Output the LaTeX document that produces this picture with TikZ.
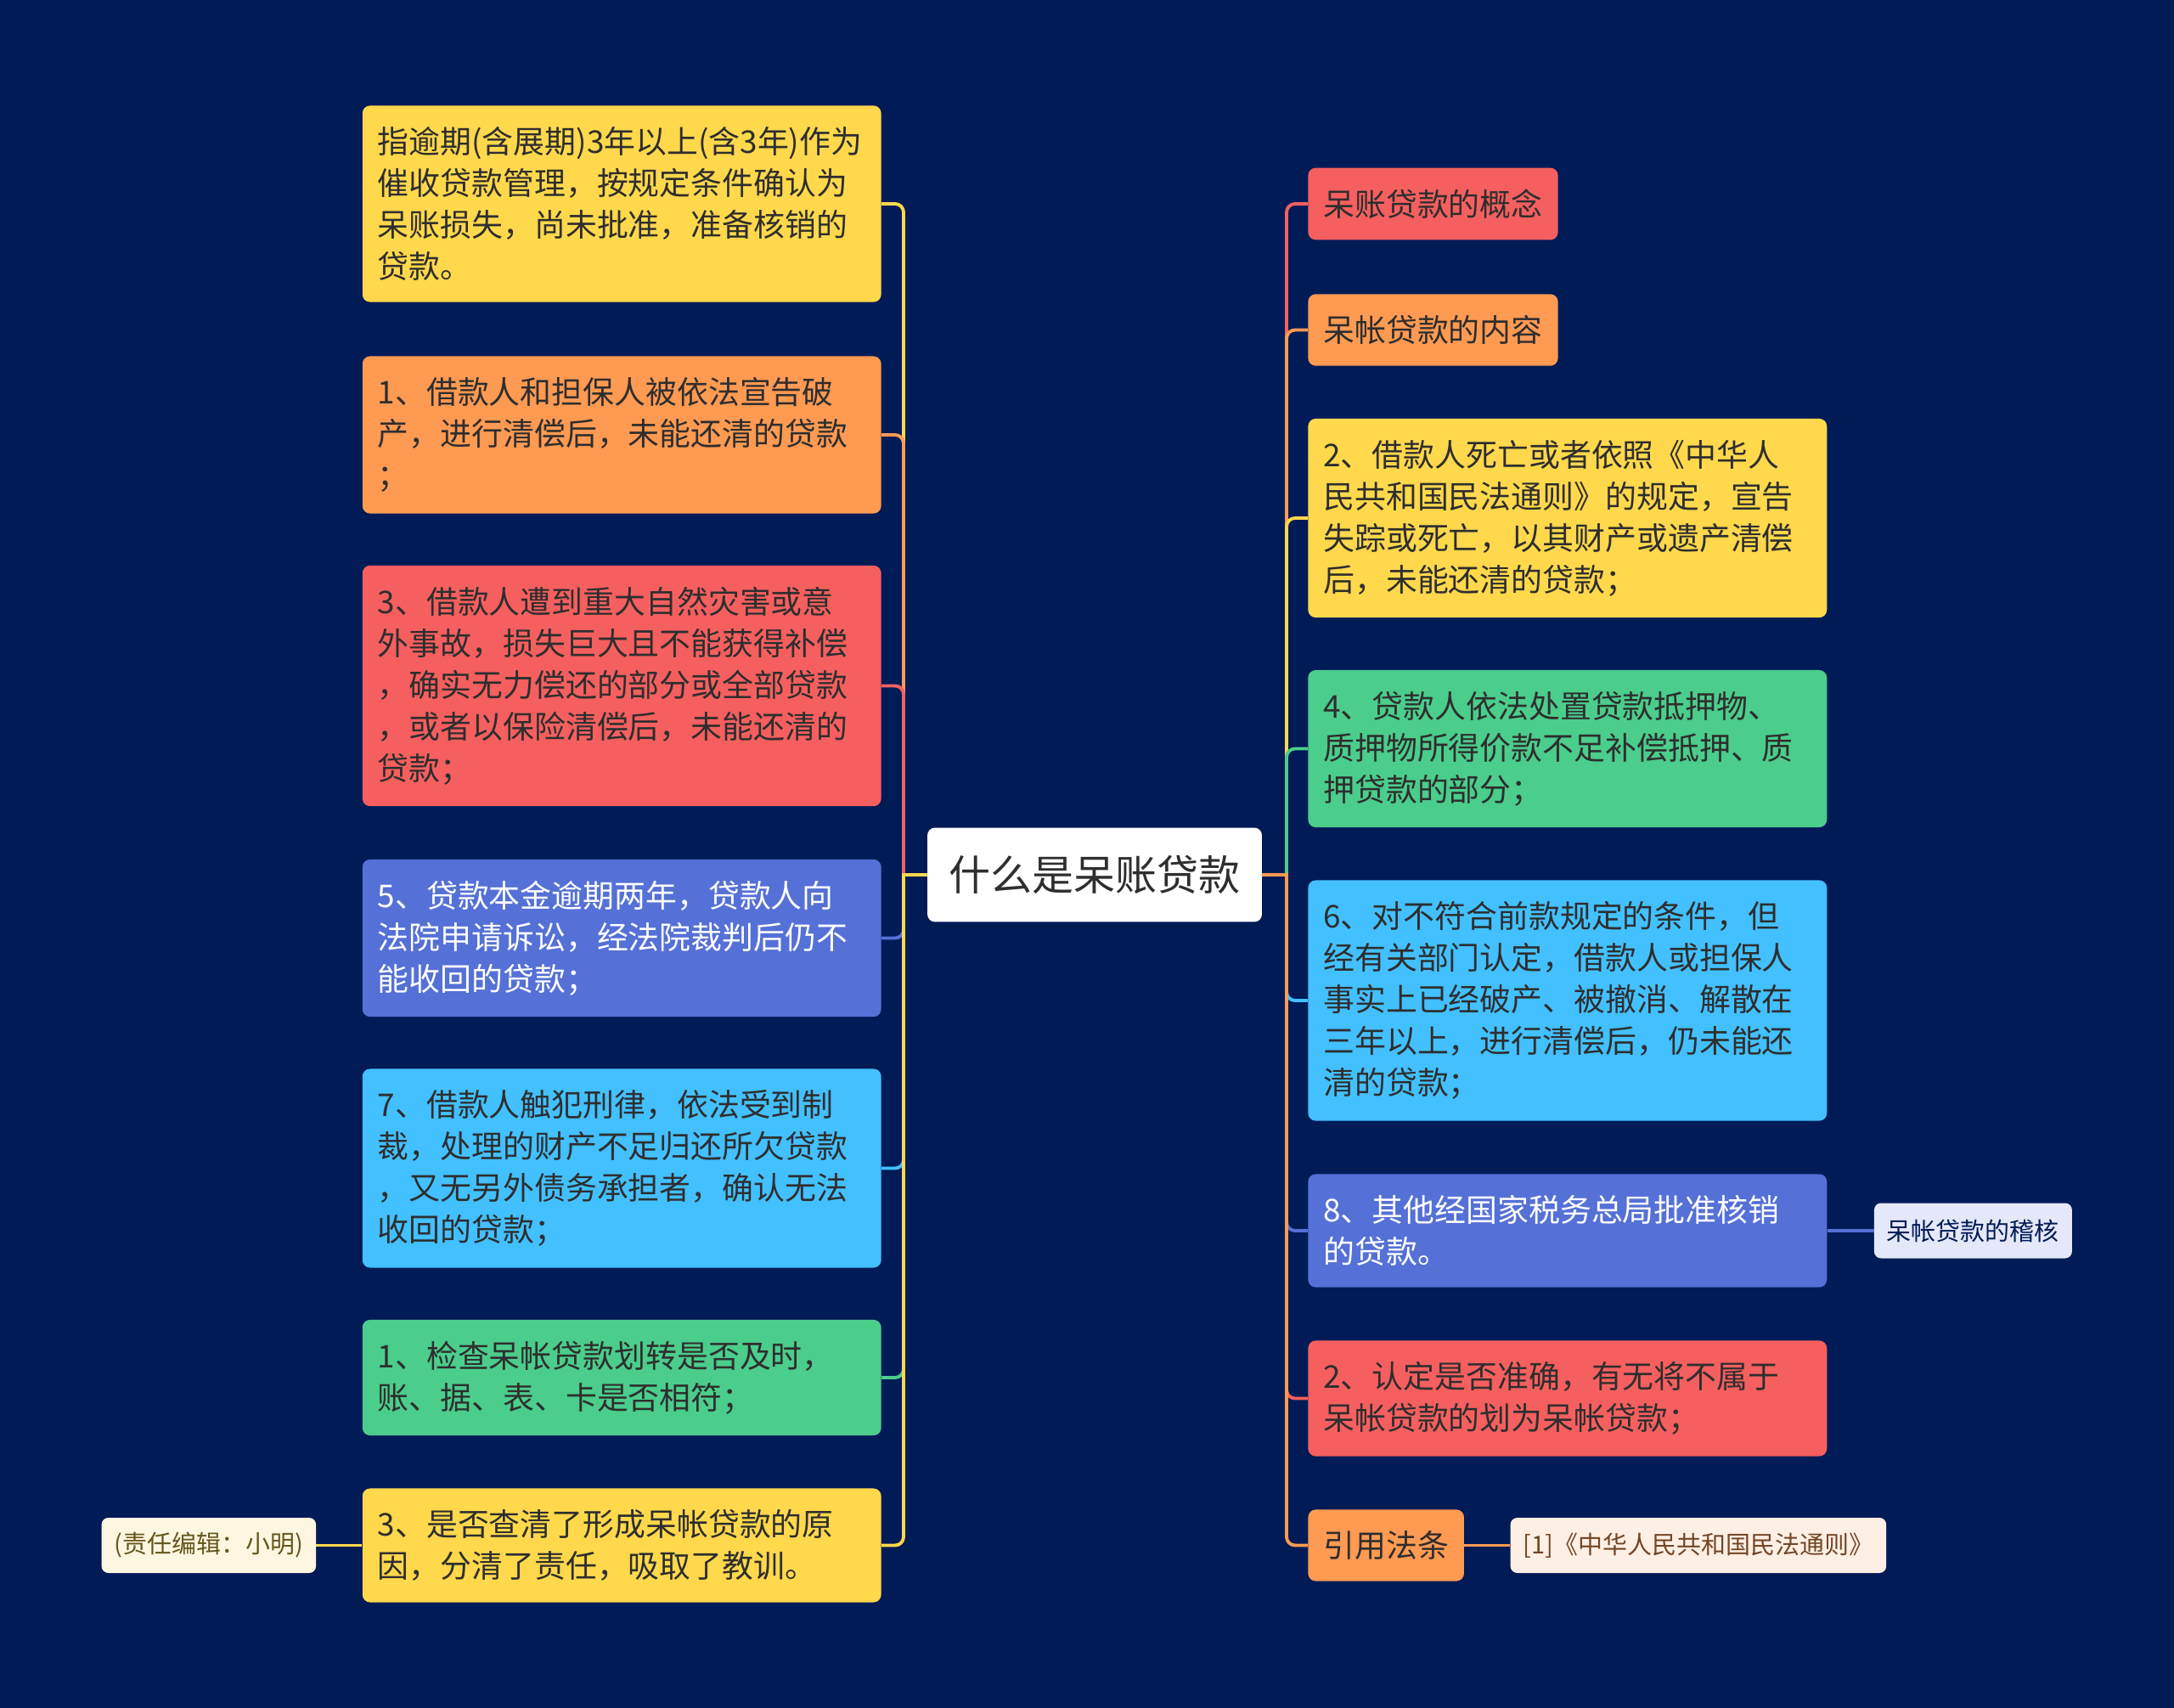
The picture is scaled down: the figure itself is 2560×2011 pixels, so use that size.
\documentclass[tikz,border=0pt]{standalone}
\usepackage{fontspec}
\setmainfont{Noto Sans CJK SC}
\usetikzlibrary{positioning}
\definecolor{NightBlue}{HTML}{011B57}
\definecolor{SunYellow}{HTML}{FFD84C}
\definecolor{SoftOrange}{HTML}{FF9A52}
\definecolor{CoralRed}{HTML}{F65F5F}
\definecolor{IrisBlue}{HTML}{5570D6}
\definecolor{SkyBlue}{HTML}{43C0FF}
\definecolor{MintGreen}{HTML}{4BCD8B}
\definecolor{InkGray}{HTML}{2E2E2E}
\definecolor{PaleLilac}{HTML}{E4E8F8}
\definecolor{PalePeach}{HTML}{FEEFE4}
\definecolor{PaleCream}{HTML}{FDF6E1}

\begin{document}
\begin{tikzpicture}[
    x=0.02cm, y=-0.02cm,
    font=\fontsize{21pt}{27.9pt}\selectfont,
    card/.style={rounded corners=0.18cm, fill=#1, text=InkGray,
        text width=11.5cm, align=left, inner xsep=0.36cm, inner ysep=0.5cm},
    tag/.style={rounded corners=0.18cm, fill=#1, text=InkGray,
        inner xsep=0.36cm, inner ysep=0.5cm},
    note/.style={rounded corners=0.16cm, fill=#1, inner xsep=0.3cm,
        minimum height=1.3cm, font=\fontsize{16.5pt}{20pt}\selectfont},
    link/.style={line width=2.2pt},
]

% fondo
\fill[NightBlue] (0,0) rectangle (2560,2011);

% tema central
\node[fill=white, rounded corners=0.18cm, text=InkGray,
      font=\fontsize{27.9pt}{30pt}\selectfont,
      minimum width=7.88cm, minimum height=2.22cm] (root) at (1289,1030) {什么是呆账贷款};
\coordinate (lhub) at (1064,1030);
\coordinate (rhub) at (1515,1030);

% rama izquierda
\node[card=SunYellow, anchor=east] (defn) at (1038,240)
    {指逾期(含展期)3年以上(含3年)作为\\催收贷款管理，按规定条件确认为\\呆账损失，尚未批准，准备核销的\\贷款。};
\node[card=SoftOrange, anchor=east] (bankrupt) at (1038,512)
    {1、借款人和担保人被依法宣告破\\产，进行清偿后，未能还清的贷款\\；};
\node[card=CoralRed, anchor=east] (disaster) at (1038,807.5)
    {3、借款人遭到重大自然灾害或意\\外事故，损失巨大且不能获得补偿\\，确实无力偿还的部分或全部贷款\\，或者以保险清偿后，未能还清的\\贷款；};
\node[card=IrisBlue, text=white, anchor=east] (lawsuit) at (1038,1104.5)
    {5、贷款本金逾期两年，贷款人向\\法院申请诉讼，经法院裁判后仍不\\能收回的贷款；};
\node[card=SkyBlue, anchor=east] (crime) at (1038,1375.5)
    {7、借款人触犯刑律，依法受到制\\裁，处理的财产不足归还所欠贷款\\，又无另外债务承担者，确认无法\\收回的贷款；};
\node[card=MintGreen, anchor=east] (check) at (1038,1622)
    {1、检查呆帐贷款划转是否及时，\\账、据、表、卡是否相符；};
\node[card=SunYellow, anchor=east] (cause) at (1038,1819.5)
    {3、是否查清了形成呆帐贷款的原\\因，分清了责任，吸取了教训。};

% rama derecha
\node[tag=CoralRed, anchor=west] (concept) at (1540,240) {呆账贷款的概念};
\node[tag=SoftOrange, anchor=west] (content) at (1540,388.5) {呆帐贷款的内容};
\node[card=SunYellow, anchor=west] (death) at (1540,610)
    {2、借款人死亡或者依照《中华人\\民共和国民法通则》的规定，宣告\\失踪或死亡，以其财产或遗产清偿\\后，未能还清的贷款；};
\node[card=MintGreen, anchor=west] (pledge) at (1540,881.5)
    {4、贷款人依法处置贷款抵押物、\\质押物所得价款不足补偿抵押、质\\押贷款的部分；};
\node[card=SkyBlue, anchor=west] (dissolved) at (1540,1178)
    {6、对不符合前款规定的条件，但\\经有关部门认定，借款人或担保人\\事实上已经破产、被撤消、解散在\\三年以上，进行清偿后，仍未能还\\清的贷款；};
\node[card=IrisBlue, text=white, anchor=west] (approved) at (1540,1449)
    {8、其他经国家税务总局批准核销\\的贷款。};
\node[card=CoralRed, anchor=west] (accuracy) at (1540,1646.5)
    {2、认定是否准确，有无将不属于\\呆帐贷款的划为呆帐贷款；};
\node[tag=SoftOrange, anchor=west] (lawref) at (1540,1819.5) {引用法条};

% notas
\node[note=PaleLilac, text=NightBlue, right=1.1cm of approved] (audit) {呆帐贷款的稽核};
\node[note=PalePeach, text=SoftOrange!45!black, right=1.08cm of lawref] (civillaw) {[1]《中华人民共和国民法通则》};
\node[note=PaleCream, text=SunYellow!40!black, left=1.08cm of cause] (editor) {(责任编辑：小明)};

% conectores
\draw[link, SunYellow]  (root.west) -- (lhub) [rounded corners=0.2cm] |- (defn.east);
\draw[link, SoftOrange] (root.west) -- (lhub) [rounded corners=0.2cm] |- (bankrupt.east);
\draw[link, CoralRed]   (root.west) -- (lhub) [rounded corners=0.2cm] |- (disaster.east);
\draw[link, IrisBlue]   (root.west) -- (lhub) [rounded corners=0.2cm] |- (lawsuit.east);
\draw[link, SkyBlue]    (root.west) -- (lhub) [rounded corners=0.2cm] |- (crime.east);
\draw[link, MintGreen]  (root.west) -- (lhub) [rounded corners=0.2cm] |- (check.east);
\draw[link, SunYellow]  (root.west) -- (lhub) [rounded corners=0.2cm] |- (cause.east);

\draw[link, CoralRed]   (root.east) -- (rhub) [rounded corners=0.2cm] |- (concept.west);
\draw[link, SoftOrange] (root.east) -- (rhub) [rounded corners=0.2cm] |- (content.west);
\draw[link, SunYellow]  (root.east) -- (rhub) [rounded corners=0.2cm] |- (death.west);
\draw[link, MintGreen]  (root.east) -- (rhub) [rounded corners=0.2cm] |- (pledge.west);
\draw[link, SkyBlue]    (root.east) -- (rhub) [rounded corners=0.2cm] |- (dissolved.west);
\draw[link, IrisBlue]   (root.east) -- (rhub) [rounded corners=0.2cm] |- (approved.west);
\draw[link, CoralRed]   (root.east) -- (rhub) [rounded corners=0.2cm] |- (accuracy.west);
\draw[link, SoftOrange] (root.east) -- (rhub) [rounded corners=0.2cm] |- (lawref.west);

\draw[link, IrisBlue]   (approved) -- (audit);
\draw[link, SoftOrange] (lawref) -- (civillaw);
\draw[link, SunYellow]  (editor) -- (cause);

\end{tikzpicture}
\end{document}
